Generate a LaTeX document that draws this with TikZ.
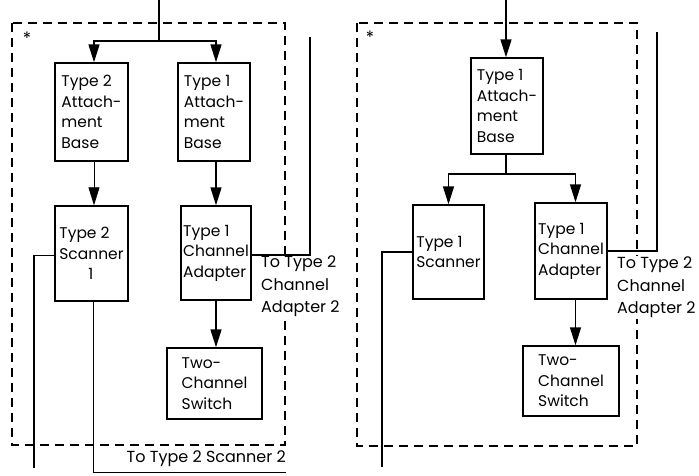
\documentclass[tikz,border=0pt]{standalone}
\usepackage{fontspec}
\setmainfont{Poppins}
\usetikzlibrary{arrows.meta}
\newcommand\bx[6]{\node[box,minimum width={#4-#2},minimum height={#5-#3}] (#1) at ({(#2+#4)/2},{(#3+#5)/2}) {#6};}
\tikzset{
  box/.style={draw, line width=1.4pt, align=left, inner sep=0pt, font=\fontsize{15.5}{20.5}\selectfont},
  arr/.style={-{Triangle[length=18pt,width=11pt]}, line width=1.4pt},
  wire/.style={line width=1.4pt},
  thinwire/.style={line width=0.7pt},
  frame/.style={line width=1.3pt, dash pattern=on 9pt off 6pt},
  lbl/.style={align=left, inner sep=1pt, fill=white, font=\fontsize{16}{22.5}\selectfont},
  star/.style={inner sep=0pt, font=\fontsize{17}{17}\selectfont}
}
\begin{document}
\begin{tikzpicture}[x=1pt,y=-1pt]
\useasboundingbox (0,0) rectangle (699,475);
% frames
\draw[frame] (12,23) rectangle (285,445);
\draw[frame] (357,23) rectangle (637,446);
\node[star] (ls) at (27,38) {*};
\node[star] (rs) at (370,37) {*};
% left panel boxes
\bx{lt2ab}{55}{63}{128}{161}{Type 2\\Attach-\\ment\\Base}
\bx{lt1ab}{178}{63}{250}{161}{Type 1\\Attach-\\ment\\Base}
\bx{lsc}{55}{206}{128}{301}{Type 2\\Scanner\\\hphantom{Sca}1}
\bx{lca}{181}{206}{251}{300}{Type 1\\Channel\\Adapter}
\bx{lsw}{167}{348}{262}{419}{Two-\\Channel\\Switch}
% right panel boxes
\bx{rt1ab}{471}{58}{543}{154}{Type 1\\Attach-\\ment\\Base}
\bx{rsc}{413}{205}{484}{299}{Type 1\\Scanner}
\bx{rca}{535}{203}{607}{299}{Type 1\\Channel\\Adapter}
\bx{rsw}{523}{346}{619}{416}{Two-\\Channel\\Switch}
% labels
\node[lbl, anchor=north west] (lto) at (260,255) {To Type 2\\Channel\\Adapter 2};
\node[lbl, anchor=north west] (rto) at (616,256) {To Type 2\\Channel\\Adapter 2};
\node[lbl, anchor=east] (lts) at (287,459) {To Type 2 Scanner 2};
% left connectors
\coordinate (lin) at (159,0);
\coordinate (ljn) at (159,41);
\draw[wire] (lin) -- (ljn);
\draw[arr] (ljn) -| ([xshift=2.5]lt2ab.north);
\draw[arr] (ljn) -| (lt1ab.north -| lca.north);
\draw[arr, line width=0.8pt] ([xshift=2.5]lt2ab.south) -- ([xshift=2.5]lsc.north);
\draw[arr] (lt1ab.south -| lca.north) -- (lca.north);
\draw[arr] (lca.south) -- (lca.south |- lsw.north);
\coordinate (lrt) at (310,37);
\draw[wire] ([yshift=-2]lca.east) -| (lrt);
\coordinate (lsb) at (34,468);
\draw[wire] ([yshift=-2]lsc.west) -| (lsb);
\coordinate (lse) at (286,472);
\draw[thinwire] ([xshift=1.5]lsc.south) |- (lse);
% right connectors
\coordinate (rin) at (506,0);
\draw[arr] (rin) -- (rin |- rt1ab.north);
\coordinate (rjn) at (506,174);
\draw[wire] (rt1ab.south -| rjn) -- (rjn);
\draw[arr] (rjn) -| (rsc.north);
\draw[arr] (rjn) -| ([xshift=4.5]rca.north);
\draw[arr] ([xshift=4.5]rca.south) -- ([xshift=4.5]rca.south |- rsw.north);
\coordinate (rrt) at (657,32);
\draw[wire] (rca.east) -| (rrt);
\coordinate (rsb) at (382,467);
\draw[wire] (rsc.west) -| (rsb);
\end{tikzpicture}
\end{document}
